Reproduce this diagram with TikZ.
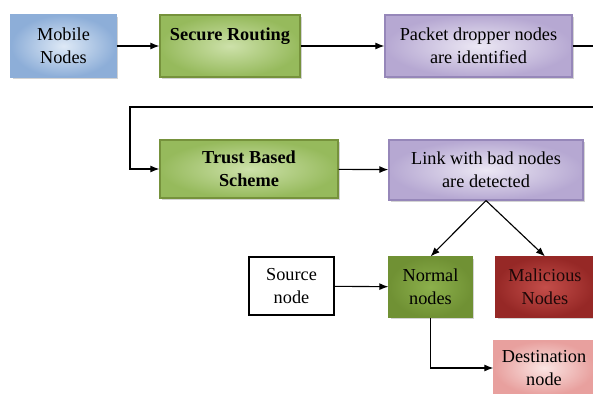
\documentclass[tikz,border=0pt]{standalone}
\usepackage{fontspec}
\setmainfont{Liberation Serif}
\usetikzlibrary{shadows, arrows.meta}

\definecolor{blueedge}{RGB}{141,174,216}
\definecolor{bluemid}{RGB}{222,233,246}
\definecolor{greenedge}{RGB}{150,186,92}
\definecolor{greenmid}{RGB}{205,225,170}
\definecolor{greenline}{RGB}{118,146,60}
\definecolor{lilacedge}{RGB}{182,168,210}
\definecolor{lilacmid}{RGB}{236,232,244}
\definecolor{lilacline}{RGB}{150,135,185}
\definecolor{darkgreen}{RGB}{112,145,52}
\definecolor{darkgreenmid}{RGB}{140,176,76}
\definecolor{darkred}{RGB}{150,40,38}
\definecolor{redmid}{RGB}{196,78,74}
\definecolor{pinkedge}{RGB}{232,160,158}
\definecolor{pinkmid}{RGB}{250,228,226}

\begin{document}
\begin{tikzpicture}[x=0.025cm, y=-0.025cm, line width=0.8pt,
    every node/.style={font=\rmfamily\fontsize{13}{16.3}\selectfont, align=center, inner sep=2pt},
    box/.style={rectangle, draw, drop shadow={shadow xshift=1.2pt, shadow yshift=-1.2pt, opacity=0.35}},
    bluebox/.style={box, draw=blueedge, shading=radial, inner color=bluemid, outer color=blueedge},
    greenbox/.style={box, draw=greenline, shading=radial, inner color=greenmid, outer color=greenedge, font=\rmfamily\fontsize{13}{16.3}\selectfont\bfseries},
    lilacbox/.style={box, draw=lilacline, shading=radial, inner color=lilacmid, outer color=lilacedge},
    normalbox/.style={box, draw=darkgreen, shading=radial, inner color=darkgreenmid, outer color=darkgreen},
    badbox/.style={box, draw=darkred, shading=radial, inner color=redmid, outer color=darkred, text=black!80!darkred},
    pinkbox/.style={box, draw=pinkedge, shading=radial, inner color=pinkmid, outer color=pinkedge},
    plainbox/.style={rectangle, draw, fill=white},
    link/.style={-{Latex[length=6.5pt, width=5pt]}, line width=0.8pt}]
        \useasboundingbox (0,0) rectangle (593,394);

        %nodes
        \node[bluebox, minimum width=105*0.025cm, minimum height=62*0.025cm] (mobile) at (63.5, 46) {Mobile\\Nodes};
        \node[greenbox, minimum width=140*0.025cm, minimum height=62*0.025cm] (secure) at (230, 46) {Secure Routing\\~};
        \node[lilacbox, minimum width=187*0.025cm, minimum height=62*0.025cm] (packet) at (478.5, 46) {Packet dropper nodes\\are identified};
        \node[greenbox, minimum width=178*0.025cm, minimum height=58*0.025cm] (trust) at (249, 169) {Trust Based\\Scheme};
        \node[lilacbox, minimum width=194*0.025cm, minimum height=60*0.025cm] (badlink) at (486, 170) {Link with bad nodes\\are detected};
        \node[plainbox, minimum width=85*0.025cm, minimum height=58*0.025cm] (source) at (291.5, 286) {Source\\node};
        \node[normalbox, minimum width=83*0.025cm, minimum height=60*0.025cm] (normal) at (430.5, 287) {Normal\\nodes};
        \node[badbox, minimum width=98*0.025cm, minimum height=60*0.025cm] (malicious) at (545, 287) {Malicious\\Nodes};
        \node[pinkbox, minimum width=100*0.025cm, minimum height=54*0.025cm] (dest) at (544, 368) {Destination\\node};

        \coordinate (turn) at (610, 107);
        \coordinate (back) at (130, 107);

        %edges
        \draw[link] (mobile) -- (secure);
        \draw[link] (secure) -- (packet);
        \draw[link] (packet.east) -| (turn) -- (back) |- (trust.west);
        \draw[link] (trust) -- (badlink);
        \draw[link] (badlink.south) -- (normal.north);
        \draw[link] (badlink.south) -- (malicious.north);
        \draw[link] (source) -- (normal);
        \draw[link] (normal.south) |- (dest.west);
    \end{tikzpicture}
\end{document}
